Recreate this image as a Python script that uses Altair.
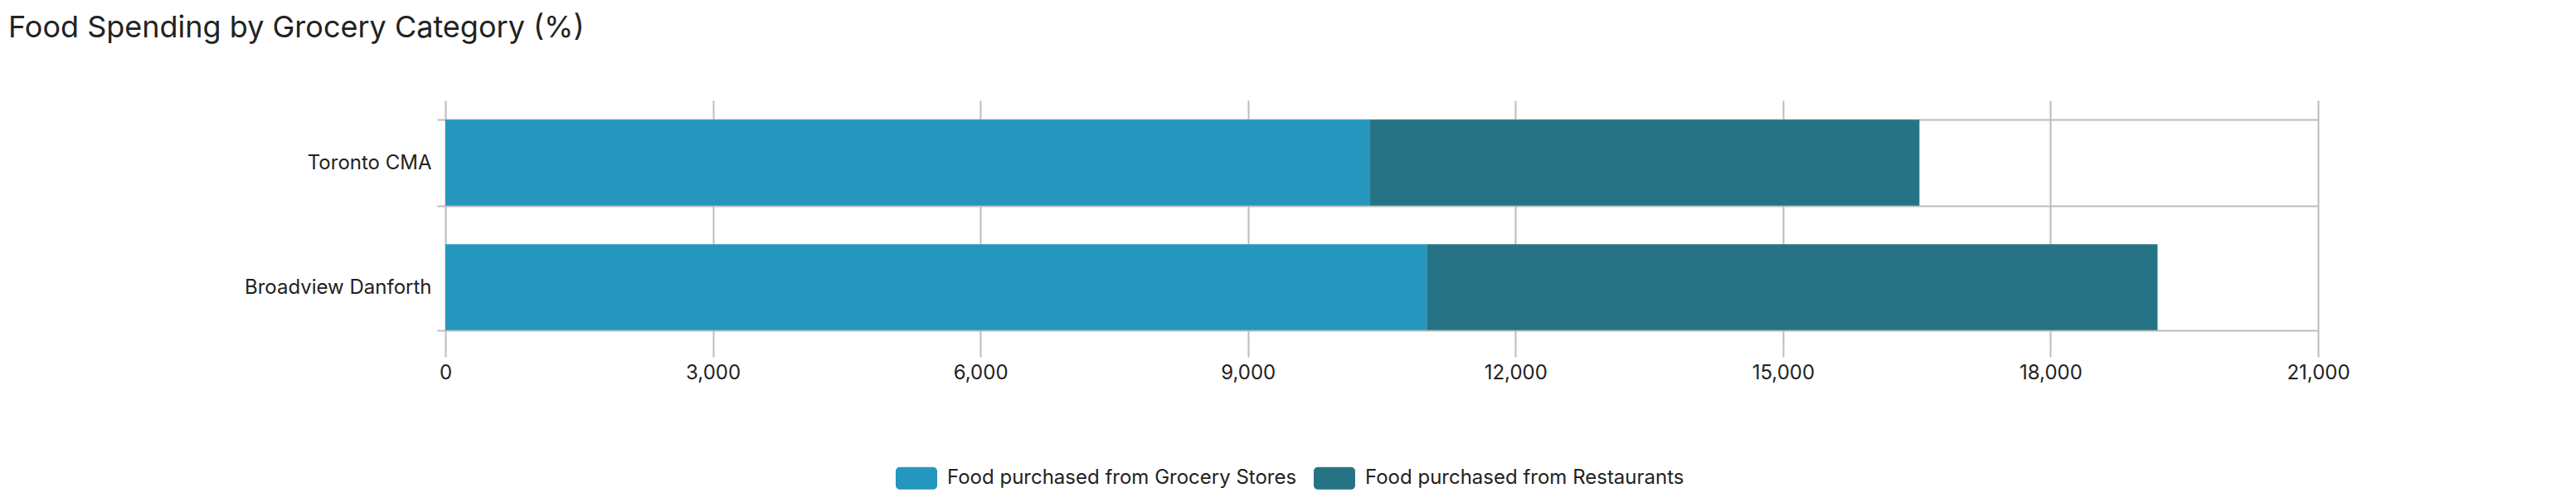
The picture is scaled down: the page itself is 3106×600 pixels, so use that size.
import altair as alt
import pandas as pd

regions = ["Toronto CMA", "Broadview Danforth"]
grocery = [10370, 11005]
restaurants = [6160, 8195]
categories = ["Food purchased from Grocery Stores", "Food purchased from Restaurants"]
colors = ["#2596be", "#267386"]
x_ticks = [0, 3000, 6000, 9000, 12000, 15000, 18000, 21000]

rows = []
for r, g, s in zip(regions, grocery, restaurants):
    rows.append({"region": r, "category": categories[0], "value": g})
    rows.append({"region": r, "category": categories[1], "value": s})
df = pd.DataFrame(rows)

legend_shape = ("M-0.8,-0.54 H0.8 A0.2,0.2 0 0 1 1,-0.34 V0.34 A0.2,0.2 0 0 1 0.8,0.54 "
                "H-0.8 A0.2,0.2 0 0 1 -1,0.34 V-0.34 A0.2,0.2 0 0 1 -0.8,-0.54 Z")

chart = alt.Chart(df).mark_bar().encode(
    y=alt.Y("region:N", sort=regions, title=None,
            scale=alt.Scale(paddingInner=0.31, paddingOuter=0.155),
            axis=alt.Axis(tickBand="extent", grid=True, domain=False, ticks=True,
                          tickSize=10, tickColor="#bcbcbc", tickWidth=2,
                          gridColor="#bcbcbc", gridWidth=2,
                          labelPadding=7, labelFontSize=24, labelColor="#222222",
                          labelFont="Inter", labelLimit=500)),
    x=alt.X("value:Q", title=None, stack="zero",
            scale=alt.Scale(domain=[0, 21000], nice=False),
            axis=alt.Axis(values=x_ticks, format=",.0f", grid=True, domain=False,
                          tickSize=9, tickColor="#bcbcbc", tickWidth=2,
                          gridColor="#bcbcbc", gridWidth=2, labelFlush=False,
                          labelPadding=7, labelFontSize=24, labelColor="#222222",
                          labelFont="Inter")),
    color=alt.Color("category:N", scale=alt.Scale(domain=categories, range=colors),
                    legend=alt.Legend(orient="none", direction="horizontal", title=None,
                                      legendX=543, legendY=430, padding=0,
                                      symbolType=legend_shape, symbolSize=2500,
                                      symbolStrokeWidth=0, symbolOpacity=1,
                                      labelOffset=12, columnPadding=20,
                                      labelFontSize=24, labelColor="#222222",
                                      labelFont="Inter", labelLimit=600)),
    order=alt.Order("category:N", sort="ascending"),
).properties(
    width=2258,
    height=300,
    title=alt.TitleParams("Food Spending by Grocery Category (%)", anchor="start",
                          frame="group", dx=-527, offset=56, fontSize=36,
                          font="Inter", fontWeight="normal", color="#222222"),
    autosize=alt.AutoSizeParams(type="none"),
    padding={"left": 529, "top": 113, "right": 300, "bottom": 170},
).configure_view(stroke=None)

chart.save("out.html", embed_options={"renderer": "svg", "actions": False})
